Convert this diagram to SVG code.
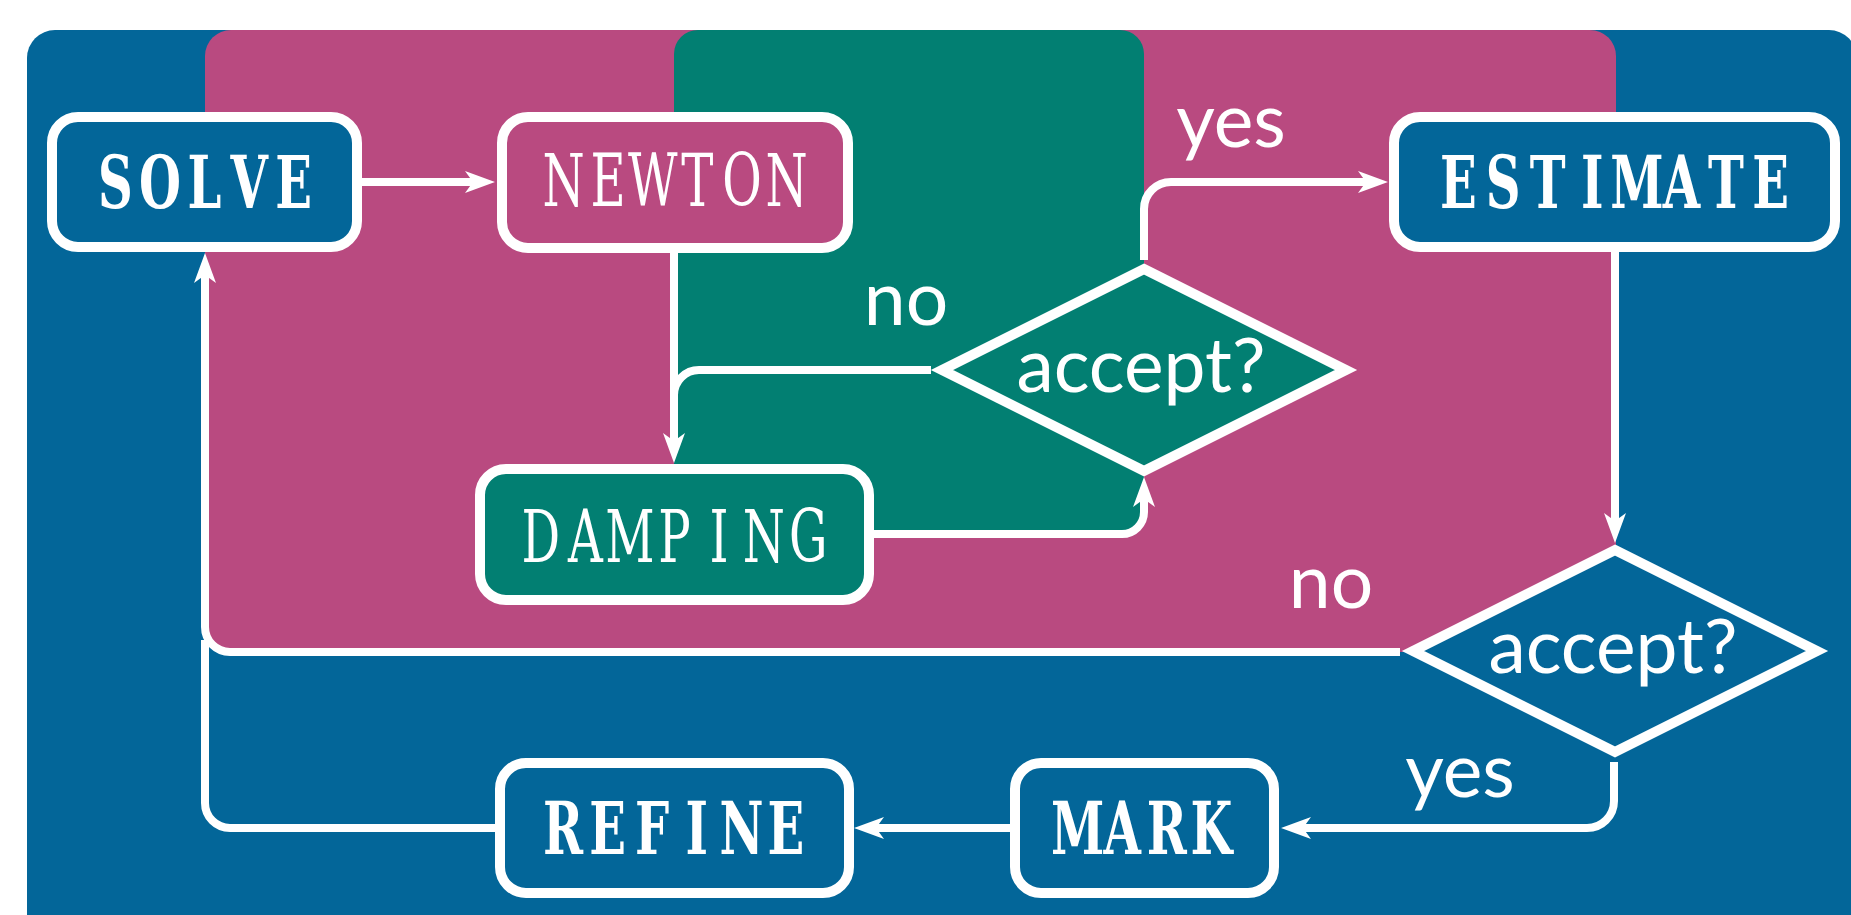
<svg xmlns="http://www.w3.org/2000/svg" width="1851" height="915" viewBox="0 0 1851 915">
<style>
.box{stroke:#fff;stroke-width:10}
.blue{fill:#036699}
.mag{fill:#B94A80}
.grn{fill:#027F72}
.lbl{font-family:"DejaVu Serif","Liberation Serif",serif;font-size:73px;fill:#fff;text-anchor:middle}
.b{font-weight:bold}
.dec{font-family:Lato,"Open Sans",sans-serif;font-size:75px;fill:#fff;text-anchor:middle}
.edge{fill:none;stroke:#fff;stroke-width:8}
</style>
<defs>
<marker id="ah" markerUnits="userSpaceOnUse" viewBox="-12 -12 36 24" markerWidth="36" markerHeight="24" refX="0" refY="0" orient="auto" overflow="visible">
<path d="M22,0 L-8,-11 L0,0 L-8,11 Z" fill="#fff"/>
</marker>
</defs>
<g id="panels">
<rect x="27" y="30" width="1830" height="960" rx="28" class="blue"/>
<rect x="205" y="30" width="1411" height="622" rx="26" class="mag"/>
<rect x="674" y="30" width="470" height="504" rx="24" class="grn"/>
</g>
<g id="connectors">
<path class="edge" d="M362,182 H473" marker-end="url(#ah)"/>
<path class="edge" d="M674,253 V441" marker-end="url(#ah)"/>
<path class="edge" d="M931,370 H699 A25,25 0 0 0 674,395 V441"/>
<path class="edge" d="M874,534 H1122 A22,22 0 0 0 1144,512 V499" marker-end="url(#ah)"/>
<path class="edge" d="M1144,260 V209 A27,27 0 0 1 1171,182 H1366" marker-end="url(#ah)"/>
<path class="edge" d="M1615,252 V521" marker-end="url(#ah)"/>
<path class="edge" d="M1400,652 H230 A25,25 0 0 1 205,627 V275" marker-end="url(#ah)"/>
<path class="edge" d="M1614,762 V801 A27,27 0 0 1 1587,828 H1303" marker-end="url(#ah)"/>
<path class="edge" d="M1010,828 H876" marker-end="url(#ah)"/>
<path class="edge" d="M495,828 H230 A25,25 0 0 1 205,803 V640"/>
</g>
<g id="edge-labels">
<text class="dec" x="1231" y="147">yes</text>
<text class="dec" x="906" y="325">no</text>
<text class="dec" x="1331" y="608">no</text>
<text class="dec" x="1460" y="797">yes</text>
</g>
<g id="solve"><rect class="box blue" x="52" y="117" width="305" height="130" rx="26"/><text class="lbl b" transform="translate(204.5,208) scale(0.66,1)" x="-135.2 -67.6 0 67.6 135.2" y="0">SOLVE</text></g>
<g id="newton"><rect class="box mag" x="502" y="117" width="346" height="131" rx="26"/><text class="lbl" transform="translate(675,206) scale(0.66,1)" x="-168.9 -101.4 -33.8 33.8 101.4 168.9" y="0">NEWTON</text></g>
<g id="damping"><rect class="box grn" x="480" y="469" width="389" height="131" rx="26"/><text class="lbl" transform="translate(674.5,562) scale(0.66,1)" x="-202.7 -135.2 -67.6 0 67.6 135.2 202.7" y="0">DAMPING</text></g>
<g id="accept1"><polygon class="box grn" points="1144,269 1346,370 1144,471 942,370"/><text class="dec" x="1141" y="392">accept?</text></g>
<g id="estimate"><rect class="box blue" x="1394" y="117" width="441" height="130" rx="26"/><text class="lbl b" transform="translate(1614.5,208) scale(0.66,1)" x="-236.5 -168.9 -101.4 -33.8 33.8 101.4 168.9 236.5" y="0">ESTIMATE</text></g>
<g id="accept2"><polygon class="box blue" points="1615,550 1817,651 1615,752 1413,651"/><text class="dec" x="1613" y="673">accept?</text></g>
<g id="mark"><rect class="box blue" x="1015" y="763" width="259" height="130" rx="26"/><text class="lbl b" transform="translate(1144.5,854) scale(0.66,1)" x="-101.4 -33.8 33.8 101.4" y="0">MARK</text></g>
<g id="refine"><rect class="box blue" x="500" y="763" width="349" height="130" rx="26"/><text class="lbl b" transform="translate(674.5,854) scale(0.66,1)" x="-168.9 -101.4 -33.8 33.8 101.4 168.9" y="0">REFINE</text></g>
</svg>
